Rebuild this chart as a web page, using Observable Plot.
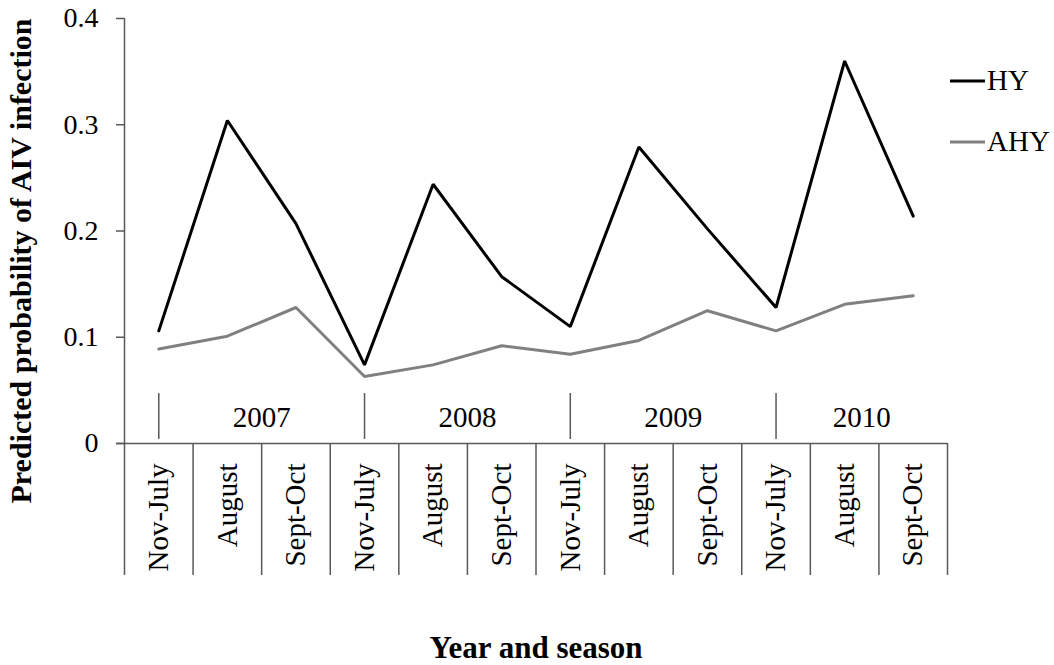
<!DOCTYPE html>
<html>
<head>
<meta charset="utf-8">
<script src="https://cdn.jsdelivr.net/npm/d3@7"></script>
<script src="https://cdn.jsdelivr.net/npm/@observablehq/plot@0.6"></script>
<style>
  html, body { margin: 0; padding: 0; background: #fff; }
  #chart svg { display: block; }
</style>
</head>
<body>
<div id="chart"></div>
<script>
// Sampling periods: three seasons within each year
const seasons = ["Nov-July", "August", "Sept-Oct"];
const years = ["2007", "2008", "2009", "2010"];

// Predicted probability of AIV infection by age class
const hy  = [0.106, 0.304, 0.207, 0.074, 0.244, 0.157, 0.110, 0.279, 0.202, 0.128, 0.360, 0.214];
const ahy = [0.089, 0.101, 0.128, 0.063, 0.074, 0.092, 0.084, 0.097, 0.125, 0.106, 0.131, 0.139];

const yTicks = [0, 0.1, 0.2, 0.3, 0.4];
const seriesNames = ["HY", "AHY"];
const seriesColors = ["#000000", "#808080"];

const FONT = "'Liberation Serif', 'Times New Roman', Times, serif";
const AXIS = "#595959";

// Frame geometry
const W = 1054, H = 665;
const mTop = 18, mLeft = 124, mRight = 107, mBottom = 222;
const frameH = H - mTop - mBottom;   // plot area height
const tableDepth = 132;              // depth of the category table below the axis

const periods = years.flatMap(year => seasons.map(season => ({year, season})));
const rows = [
  ...ahy.map((value, i) => ({series: "AHY", i, value})),
  ...hy.map((value, i) => ({series: "HY", i, value}))
];

// Centre of each year's label: between its first period and the next year's first period
const yearMid = years.map((y, k) => k < years.length - 1 ? 3 * k + 2 : (3 * k + 0.5 + periods.length) / 2);

// Legend drawn in the right margin
function legend(index, scales, values, dims) {
  const g = d3.create("svg:g")
    .attr("font-family", FONT)
    .attr("font-size", 29)
    .attr("text-anchor", "start");
  seriesNames.forEach((name, k) => {
    const cy = 81 + k * 61;
    g.append("line")
      .attr("x1", 950).attr("x2", 985).attr("y1", cy).attr("y2", cy)
      .attr("stroke", seriesColors[k]).attr("stroke-width", 3);
    g.append("text")
      .attr("x", 987).attr("y", cy).attr("dy", "0.32em")
      .attr("text-anchor", "start")
      .attr("fill", "#000").text(name);
  });
  return g.node();
}

const chart = Plot.plot({
  width: W,
  height: H,
  marginTop: mTop,
  marginLeft: mLeft,
  marginRight: mRight,
  marginBottom: mBottom,
  style: {fontFamily: FONT, fontSize: "28px", color: "#000", background: "#fff", overflow: "visible"},
  x: {domain: [0, periods.length], axis: null},
  y: {domain: [0, 0.4]},
  color: {domain: seriesNames, range: seriesColors},
  marks: [
    // y axis line, continuing down the left edge of the category table
    Plot.ruleX([0], {stroke: AXIS, strokeWidth: 1.5, insetBottom: -tableDepth}),
    // period cell dividers
    Plot.ruleX(d3.range(1, periods.length + 1), {x: d => d, stroke: AXIS, strokeWidth: 1.5, insetTop: frameH, insetBottom: -tableDepth}),
    // year dividers
    Plot.ruleX(years, {x: (d, k) => 3 * k + 0.5, stroke: AXIS, strokeWidth: 1.5, insetTop: frameH - 50, insetBottom: 4}),
    // x axis line
    Plot.ruleY([0], {stroke: AXIS, strokeWidth: 1.5, insetLeft: -8}),
    Plot.axisY({
      ticks: yTicks,
      tickSize: 8,
      tickPadding: 18,
      fontSize: 28,
      stroke: AXIS,
      strokeWidth: 1.5,
      tickFormat: d => d === 0 ? "0" : d.toFixed(1),
      label: null
    }),
    Plot.line(rows, {x: d => d.i + 0.5, y: "value", z: "series", stroke: "series", strokeWidth: 3, strokeLinejoin: "miter"}),
    // season labels
    Plot.text(periods, {
      x: (d, i) => i + 0.5, text: "season", frameAnchor: "bottom", dy: 20,
      rotate: -90, textAnchor: "end", lineAnchor: "middle", fontSize: 29, fill: "#000"
    }),
    // year labels
    Plot.text(years, {
      x: (d, k) => yearMid[k], text: d => d, frameAnchor: "bottom", dy: -25.5,
      textAnchor: "middle", lineAnchor: "middle", fontSize: 29, fill: "#000"
    }),
    // axis titles
    Plot.text(["Predicted probability of AIV infection"], {
      frameAnchor: "left", dx: -103, dy: 30, rotate: -90,
      textAnchor: "middle", lineAnchor: "middle", fontWeight: "bold", fontSize: 30, fill: "#000"
    }),
    Plot.text(["Year and season"], {
      frameAnchor: "bottom", dy: 205,
      textAnchor: "middle", lineAnchor: "middle", fontWeight: "bold", fontSize: 31, fill: "#000"
    }),
    legend
  ]
});

document.getElementById("chart").append(chart);
</script>
</body>
</html>
